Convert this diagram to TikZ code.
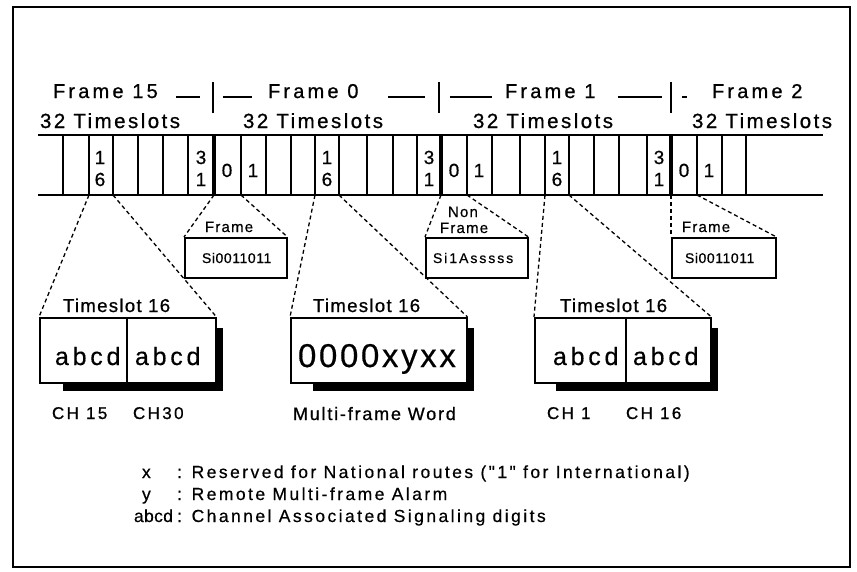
\documentclass[tikz,border=0pt]{standalone}
\usepackage{fontspec}
\setmainfont{Liberation Sans}
\newfontfamily\fFrame[LetterSpace=16,FakeBold=0.8]{Liberation Sans}
\newfontfamily\fSlots[LetterSpace=12,FakeBold=0.8]{Liberation Sans}
\newfontfamily\fDig[FakeBold=0.6]{Liberation Sans}
\newfontfamily\fSmallA[LetterSpace=4,FakeBold=0.5]{Liberation Sans}
\newfontfamily\fSmallB[LetterSpace=14,FakeBold=0.5]{Liberation Sans}
\newfontfamily\fSmallLab[LetterSpace=8,FakeBold=0.5]{Liberation Sans}
\newfontfamily\fTS[LetterSpace=7,FakeBold=0.8]{Liberation Sans}
\newfontfamily\fAbcd[LetterSpace=15,FakeBold=0.4]{Liberation Sans}
\newfontfamily\fWord[LetterSpace=8,FakeBold=0.4]{Liberation Sans}
\newfontfamily\fCH[LetterSpace=14,FakeBold=0.8]{Liberation Sans}
\newfontfamily\fMulti[LetterSpace=10,FakeBold=0.8]{Liberation Sans}
\newfontfamily\fLeg[LetterSpace=14,FakeBold=0.5]{Liberation Sans}
\newfontfamily\fLegTight[LetterSpace=2,FakeBold=0.5]{Liberation Sans}
\tikzset{
  lab/.style={anchor=base west, inner sep=0pt, outer sep=0pt},
  dig/.style={anchor=base, inner sep=0pt, outer sep=0pt, font={\fDig\fontsize{19}{19}\selectfont}},
  framelab/.style={lab, font={\fFrame\fontsize{20}{20}\selectfont}},
  slotlab/.style={lab, font={\fSlots\fontsize{20.5}{20.5}\selectfont}},
  smalltxtA/.style={lab, font={\fSmallA\fontsize{14}{14}\selectfont}},
  smalltxtB/.style={lab, font={\fSmallB\fontsize{14}{14}\selectfont}},
  smalllab/.style={lab, font={\fSmallLab\fontsize{15}{15}\selectfont}},
  tslab/.style={lab, font={\fTS\fontsize{18.6}{18.6}\selectfont}},
  abcdlab/.style={lab, font={\fAbcd\fontsize{25}{25}\selectfont}},
  wordlab/.style={lab, font={\fWord\fontsize{33}{33}\selectfont}},
  chlab/.style={lab, font={\fCH\fontsize{17}{17}\selectfont}},
  multilab/.style={lab, font={\fMulti\fontsize{18}{18}\selectfont}},
  leglab/.style={lab, font={\fLeg\fontsize{17.5}{17.5}\selectfont}},
  legtight/.style={lab, font={\fLegTight\fontsize{17.5}{17.5}\selectfont}},
  thin/.style={line width=1.5pt},
  thick line/.style={line width=3.5pt},
  dashline/.style={line width=1.3pt, dash pattern=on 4pt off 3pt},
  smallbox/.style={draw, line width=1.5pt, fill=white, anchor=north west, inner sep=0pt, minimum width=102pt, minimum height=40pt},
  bigbox/.style={draw, line width=1.5pt, fill=white, anchor=north west, inner sep=0pt, minimum width=176pt, minimum height=65pt},
  underbar/.style={line width=2pt},
}
\begin{document}
\begin{tikzpicture}[x=1pt,y=-1pt]
\useasboundingbox (0,0) rectangle (857,571);
% outer frame
\node[draw, thin, anchor=north west, inner sep=0pt, minimum width=837pt, minimum height=560pt] (outer) at (12,6) {};

% frame labels
\node[framelab] (fr15) at (53,98) {Frame 15};
\node[framelab] (fr0) at (268,98) {Frame 0};
\node[framelab] (fr1) at (505,98) {Frame 1};
\node[framelab] (fr2) at (712,98) {Frame 2};
\draw[underbar] (176,97) -- (200,97);
\draw[underbar] (223,97) -- (252,97);
\draw[underbar] (388,97) -- (425,97);
\draw[underbar] (450,97) -- (492,97);
\draw[underbar] (618,97) -- (662,97);
\draw[underbar] (682,97) -- (687,97);
\draw[thin] (213,82) -- (213,113);
\draw[thin] (439,82) -- (439,113);
\draw[thin] (671,82) -- (671,113);

% timeslot labels
\node[slotlab] (ts15) at (40,128) {32 Timeslots};
\node[slotlab] (ts0) at (243,128) {32 Timeslots};
\node[slotlab] (ts1) at (473,128) {32 Timeslots};
\node[slotlab] (ts2) at (692,128) {32 Timeslots};

% strip
\draw[thin] (38,135) -- (823,135);
\draw[thin] (38,195) -- (823,195);
\foreach \x in {63,89,113,138,163,188,241,266,291,315,339,367,393,417,467,492,520,545,569,594,619,647,697,722,746}
  \draw[thin] (\x,135) -- (\x,195);
\foreach \x in {214,441,671}
  \draw[thick line] (\x,135) -- (\x,195);

% cell digits
\node[dig] (d15a) at (100,164) {1};
\node[dig] (d15b) at (100,186) {6};
\node[dig] (d31a) at (201,164) {3};
\node[dig] (d31b) at (201,186) {1};
\node[dig] (d0a) at (227,177) {0};
\node[dig] (d1a) at (253,177) {1};
\node[dig] (d16a) at (327,164) {1};
\node[dig] (d16b) at (327,186) {6};
\node[dig] (d31c) at (429,164) {3};
\node[dig] (d31d) at (429,186) {1};
\node[dig] (d0b) at (454,177) {0};
\node[dig] (d1b) at (479,177) {1};
\node[dig] (d16c) at (557,164) {1};
\node[dig] (d16d) at (557,186) {6};
\node[dig] (d31e) at (659,164) {3};
\node[dig] (d31f) at (659,186) {1};
\node[dig] (d0c) at (684,177) {0};
\node[dig] (d1c) at (709,177) {1};

% cell corner coordinates
\coordinate (a1) at (89,195);  \coordinate (a2) at (113,195);
\coordinate (s1) at (214,195); \coordinate (s2) at (241,195);
\coordinate (b1c) at (315,195); \coordinate (b2c) at (339,195);
\coordinate (n1) at (441,195); \coordinate (n2) at (467,195);
\coordinate (c1c) at (545,195); \coordinate (c2c) at (569,195);
\coordinate (t1) at (671,195); \coordinate (t2) at (697,195);

% small boxes
\node[smallbox] (sbA) at (184,237) {};
\node[smallbox] (sbB) at (425,237) {};
\node[smallbox, minimum width=104pt] (sbC) at (671,237) {};
\node[smalltxtA] (sbAt) at (202,263) {Si0011011};
\node[smalltxtB] (sbBt) at (433,263) {Si1Asssss};
\node[smalltxtA] (sbCt) at (685,263) {Si0011011};
\node[smalllab] (sbAl) at (205,232) {Frame};
\node[smalllab] (sbBl1) at (448,217) {Non};
\node[smalllab] (sbBl2) at (440,233) {Frame};
\node[smalllab] (sbCl) at (682,232) {Frame};
\draw[dashline] (s1) -- (sbA.north west);
\draw[dashline] (s2) -- (sbA.north east);
\draw[dashline] (n1) -- (sbB.north west);
\draw[dashline] (n2) -- (sbB.north east);
\draw[dashline] (t1) -- (sbC.north west);
\draw[dashline] (t2) -- (sbC.north east);

% big boxes with shadows
\fill ([xshift=24pt,yshift=-74pt]39,317) rectangle ([xshift=8pt,yshift=-11pt]215,317);
\fill ([xshift=23pt,yshift=-74pt]290,317) rectangle ([xshift=8pt,yshift=-11pt]466,317);
\fill ([xshift=22pt,yshift=-74pt]534,317) rectangle ([xshift=8pt,yshift=-11pt]710,317);
\node[bigbox] (bb1) at (39,317) {};
\node[bigbox] (bb2) at (290,317) {};
\node[bigbox] (bb3) at (534,317) {};
\draw[thin] (127,317) -- (127,382);
\draw[thin] (626,317) -- (626,382);

\draw[dashline] (a1) -- (bb1.north west);
\draw[dashline] (a2) -- (bb1.north east);
\draw[dashline] (b1c) -- (bb2.north west);
\draw[dashline] (b2c) -- (bb2.north east);
\draw[dashline] (c1c) -- (bb3.north west);
\draw[dashline] (c2c) -- (bb3.north east);

\node[tslab] (tsl1) at (63,312) {Timeslot 16};
\node[tslab] (tsl2) at (313,312) {Timeslot 16};
\node[tslab] (tsl3) at (560,312) {Timeslot 16};

\node[abcdlab] (ab1) at (55,365) {abcd};
\node[abcdlab] (ab2) at (135,365) {abcd};
\node[wordlab] (wd) at (298,367) {0000xyxx};
\node[abcdlab] (ab3) at (553,365) {abcd};
\node[abcdlab] (ab4) at (633,365) {abcd};

\node[chlab] (ch15) at (52,419) {CH 15};
\node[chlab] (ch30) at (133,419) {CH30};
\node[multilab] (mfw) at (293,420) {Multi-frame Word};
\node[chlab] (ch1) at (547,419) {CH 1};
\node[chlab] (ch16) at (626,419) {CH 16};

% legend
\node[leglab] (lx) at (142,478) {x};
\node[leglab] (lxt) at (177,478) {: Reserved for National routes ("1" for International)};
\node[leglab] (ly) at (142,500) {y};
\node[leglab] (lyt) at (177,500) {: Remote Multi-frame Alarm};
\node[legtight] (la) at (134,522) {abcd};
\node[leglab] (lat) at (177,522) {: Channel Associated Signaling digits};
\end{tikzpicture}
\end{document}
